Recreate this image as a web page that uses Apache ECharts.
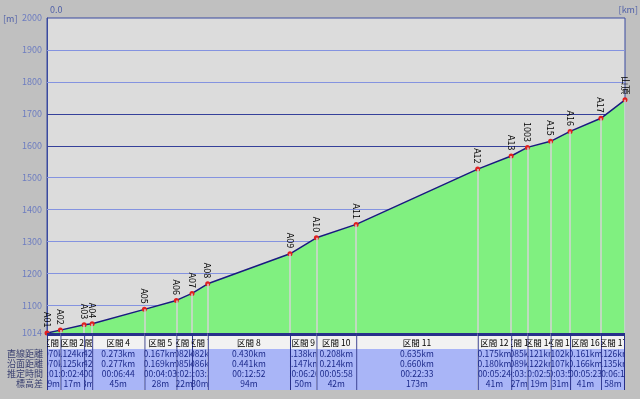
<!DOCTYPE html>
<html>
<head>
<meta charset="utf-8">
<script src="https://cdn.jsdelivr.net/npm/echarts@6/dist/echarts.min.js"></script>
<style>
html, body { margin: 0; padding: 0; background: #c0c0c0; }
#main { width: 640px; height: 399px; }
</style>
</head>
<body>
<div id="main"></div>
<script>
// 地点名と標高
const pointNames = ['A01', 'A02', 'A03', 'A04', 'A05', 'A06', 'A07', 'A08', 'A09', 'A10',
    'A11', 'A12', 'A13', '1003', 'A15', 'A16', 'A17', '山頂'];
const elevations = [1014, 1023, 1040, 1043, 1088, 1116, 1138, 1168, 1262, 1312,
    1354, 1527, 1568, 1595, 1614, 1645, 1686, 1744];

// 区間ごとの表
const sectionNames = ['区間 1', '区間 2', '区間 3', '区間 4', '区間 5', '区間 6', '区間 7', '区間 8', '区間 9',
    '区間 10', '区間 11', '区間 12', '区間 13', '区間 14', '区間 15', '区間 16', '区間 17'];
const horizDist = [0.070, 0.124, 0.042, 0.273, 0.167, 0.082, 0.082, 0.430, 0.138,
    0.208, 0.635, 0.175, 0.085, 0.121, 0.102, 0.161, 0.126];
const horizText = ['0.070km', '0.124km', '0.042km', '0.273km', '0.167km', '0.082km', '0.082km', '0.430km', '0.138km',
    '0.208km', '0.635km', '0.175km', '0.085km', '0.121km', '0.102km', '0.161km', '0.126km'];
const surfaceText = ['0.070km', '0.125km', '0.042km', '0.277km', '0.169km', '0.085km', '0.086km', '0.441km', '0.147km',
    '0.214km', '0.660km', '0.180km', '0.089km', '0.122km', '0.107km', '0.166km', '0.135km'];
const timeText = ['00:01:20', '00:02:40', '00:00:40', '00:06:44', '00:04:03', '00:02:30', '00:03:30', '00:12:52', '00:06:26',
    '00:05:58', '00:22:33', '00:05:24', '00:03:20', '00:02:50', '00:03:50', '00:05:23', '00:06:17'];
const climbText = ['9m', '17m', '3m', '45m', '28m', '22m', '30m', '94m', '50m',
    '42m', '173m', '41m', '27m', '19m', '31m', '41m', '58m'];
const rowNames = ['直線距離', '沿面距離', '推定時間', '標高差'];

// 軸
const yLabels = [1014, 1100, 1200, 1300, 1400, 1500, 1600, 1700, 1800, 1900, 2000];
const gridValues = [1100, 1200, 1300, 1400, 1500, 1600, 1700, 1800, 1900];
const yMin = 1014;
const yMax = 2000;

const cumDist = [0];
for (let i = 0; i < horizDist.length; i++) {
    cumDist.push(+(cumDist[i] + horizDist[i]).toFixed(3));
}
const totalDist = cumDist[cumDist.length - 1];

const profile = cumDist.map((d, i) => [d, elevations[i]]);
const tableData = sectionNames.map((n, i) => [cumDist[i], cumDist[i + 1], i]);

const FONT = '"Noto Sans CJK JP", "DejaVu Sans", sans-serif';
const NAVY = '#28308a';

function renderTable(params, api) {
    const i = api.value(2);
    const xa = api.coord([api.value(0), yMin])[0];
    const xb = api.coord([api.value(1), yMin])[0];
    const top = api.coord([0, yMin])[1];
    const w = xb - xa;
    const cx = (xa + xb) / 2;
    const rows = [horizText[i], surfaceText[i], timeText[i], climbText[i]];
    const kids = [
        {type: 'rect', shape: {x: xa, y: top + 3, width: w, height: 13}, style: {fill: '#f2f2f2'}},
        {type: 'rect', shape: {x: xa, y: top + 16, width: w, height: 41}, style: {fill: '#a9b5f7'}},
        {type: 'rect', shape: {x: xa, y: top, width: w, height: 3}, style: {fill: NAVY}},
        {type: 'line', shape: {x1: xa + 0.5, y1: top, x2: xa + 0.5, y2: top + 57}, style: {stroke: NAVY, lineWidth: 1}},
        {type: 'text', x: cx, y: top + 10, style: {text: sectionNames[i], align: 'center', verticalAlign: 'middle', fontSize: 8.5, fontFamily: FONT, fill: '#000'}}
    ];
    rows.forEach((t, r) => {
        kids.push({type: 'text', x: cx, y: top + 21 + r * 10, style: {text: t, align: 'center', verticalAlign: 'middle', fontSize: 8.5, fontFamily: FONT, fill: '#1c2a8a'}});
    });
    if (i === sectionNames.length - 1) {
        kids.push({type: 'line', shape: {x1: xb - 0.5, y1: top, x2: xb - 0.5, y2: top + 57}, style: {stroke: NAVY, lineWidth: 1}});
    }
    return {
        type: 'group',
        children: kids,
        clipPath: {type: 'rect', shape: {x: xa, y: top, width: w, height: 60}}
    };
}

const chart = echarts.init(document.getElementById('main'));

const graphicTexts = [
    {type: 'text', left: 3, top: 14, style: {text: '[m]', fontSize: 9, fontFamily: FONT, fill: '#5060a8'}},
    {type: 'text', left: 50, top: 5, style: {text: '0.0', fontSize: 9, fontFamily: FONT, fill: '#5060a8'}},
    {type: 'text', right: 2, top: 5, style: {text: '[km]', fontSize: 9, fontFamily: FONT, fill: '#5060a8'}}
];
rowNames.forEach((n, r) => {
    graphicTexts.push({type: 'text', right: 597, top: 349 + r * 10, style: {text: n, fontSize: 9, fontFamily: FONT, fill: '#3a4070', align: 'right'}});
});

option = {
    backgroundColor: '#c0c0c0',
    animation: false,
    grid: {
        left: 47, right: 15, top: 18, bottom: 66,
        show: true,
        backgroundColor: '#dcdcdc',
        borderColor: '#3a4aa0',
        borderWidth: 1
    },
    xAxis: {
        type: 'value',
        min: 0,
        max: totalDist,
        show: false
    },
    yAxis: {
        type: 'value',
        min: yMin,
        max: yMax,
        axisLine: {show: true, lineStyle: {color: '#3a4aa0'}},
        axisTick: {show: false},
        splitLine: {show: false},
        axisLabel: {
            customValues: yLabels,
            formatter: v => String(v),
            color: '#6c7cc0',
            fontSize: 9,
            fontFamily: FONT,
            margin: 5
        }
    },
    graphic: graphicTexts,
    series: [
        {
            // 目盛線
            type: 'line',
            data: [],
            z: 1,
            markLine: {
                silent: true,
                symbol: 'none',
                z: 1,
                label: {show: false},
                data: gridValues.map(v => ({
                    yAxis: v,
                    lineStyle: {color: (v === 1600 || v === 1700) ? '#35409a' : '#8493e0', width: 1, type: 'solid'}
                }))
            }
        },
        {
            type: 'line',
            data: profile,
            z: 3,
            symbol: 'circle',
            symbolSize: 5,
            itemStyle: {color: '#e02020'},
            lineStyle: {color: '#1a1a80', width: 1.5},
            areaStyle: {color: '#80f080', opacity: 1, origin: 'start'},
            label: {
                show: true,
                formatter: p => pointNames[p.dataIndex],
                position: 'top',
                rotate: -90,
                align: 'right',
                verticalAlign: 'middle',
                distance: 3,
                fontSize: 9,
                fontFamily: FONT,
                color: '#000'
            },
            markLine: {
                silent: true,
                symbol: 'none',
                z: 4,
                label: {show: false},
                lineStyle: {color: '#d4d4d4', width: 1.5, type: 'solid'},
                data: profile.slice(1).map(p => [{coord: [p[0], p[1]]}, {coord: [p[0], yMin]}])
            }
        },
        {
            type: 'custom',
            data: tableData,
            encode: {x: [0, 1], y: 2},
            clip: false,
            silent: true,
            z: 5,
            renderItem: renderTable
        }
    ]
};

chart.setOption(option);
</script>
</body>
</html>
